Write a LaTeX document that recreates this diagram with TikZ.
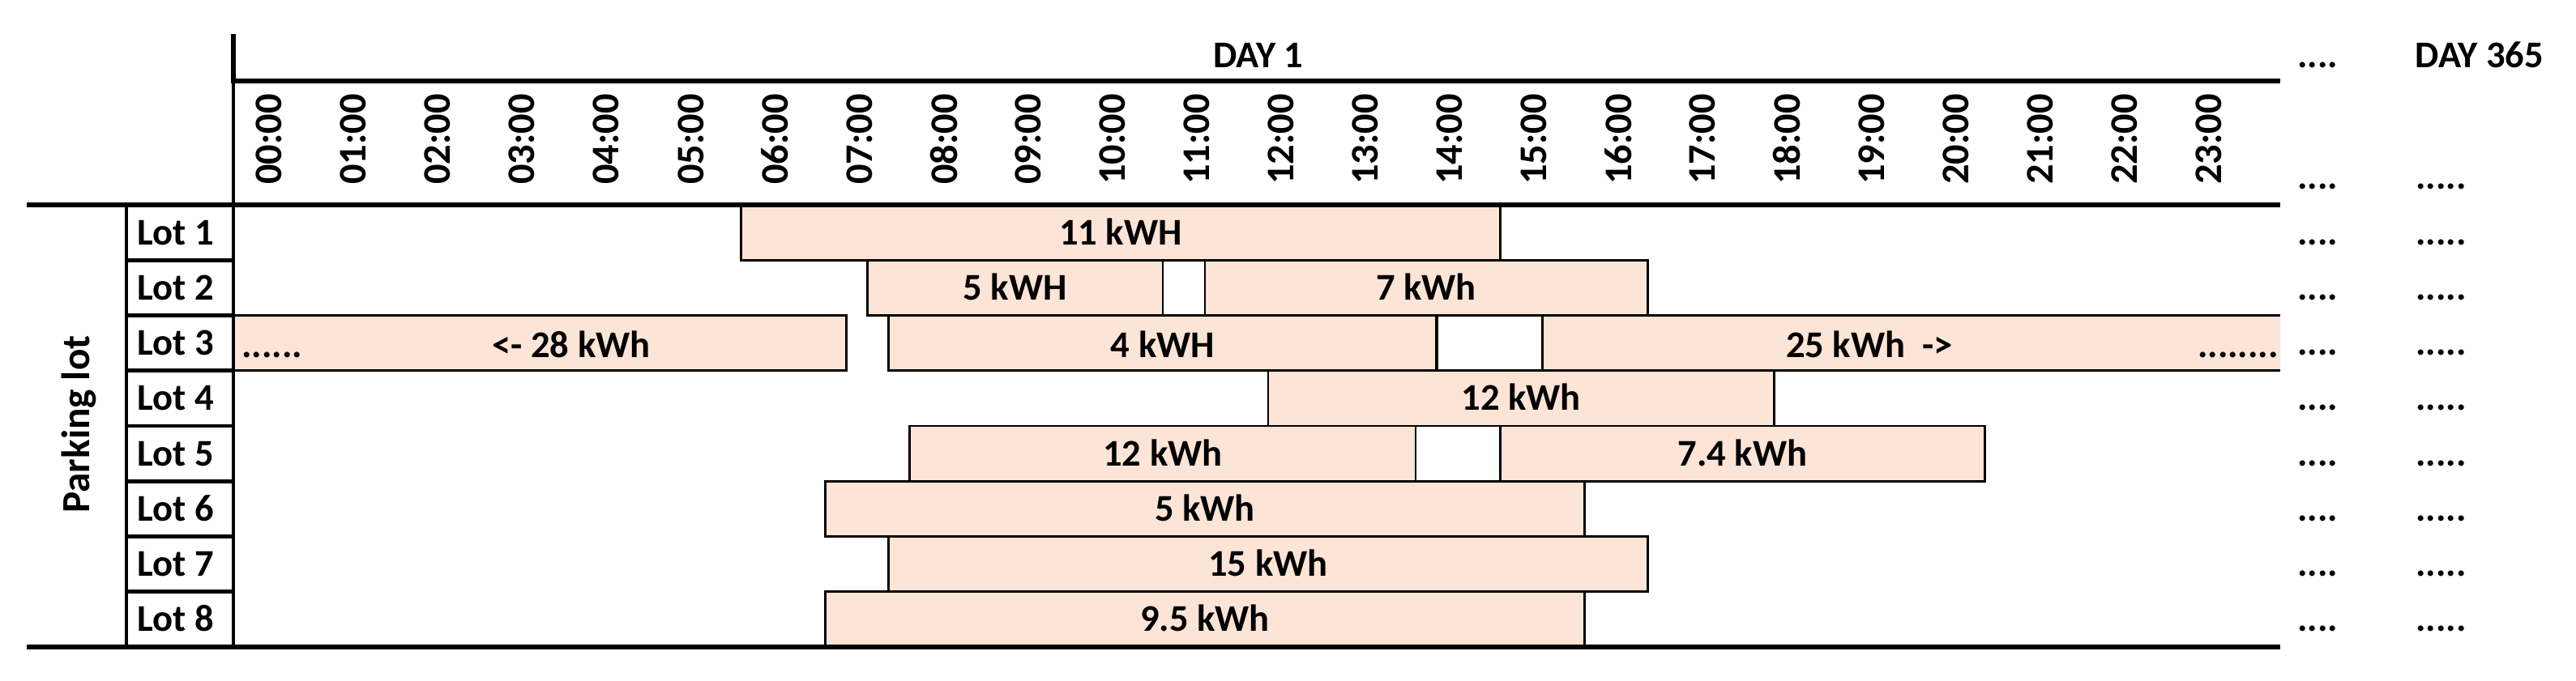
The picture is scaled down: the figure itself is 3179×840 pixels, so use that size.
\documentclass[tikz,border=0pt]{standalone}
\usepackage{fontspec}
\setmainfont{Carlito}
\definecolor{peach}{HTML}{FCE4D6}
\newcommand\lotbar[5]{% name,row,q1,q2,text
  \draw[barbox] ({290+26.02*#3},{253+68.25*(#2-1)}) rectangle ({290+26.02*#4},{253+68.25*#2});
  \node[txt,anchor=base] (#1) at ({290+26.02*(#3+#4)/2},{253+68.25*(#2-0.5)+15}) {#5};}
\begin{document}
\begin{tikzpicture}[x=0.02cm,y=-0.02cm,
  txt/.style={font=\fontsize{26.5}{30}\selectfont\bfseries, inner sep=0pt},
  timetxt/.style={font=\fontsize{27.5}{30}\selectfont\bfseries, inner sep=0pt},
  bigtxt/.style={font=\fontsize{28}{32}\selectfont\bfseries, inner sep=0pt},
  barbox/.style={draw=black, fill=peach, line width=1.5pt},
  barthick/.style={draw=black, line width=1.9pt},
  tablerule/.style={line width=3.4pt},
  lotrule/.style={line width=2.8pt}]
\useasboundingbox (0,0) rectangle (3179,840);

% header
\node[txt,anchor=base] (day1) at (1553,83) {DAY 1};
\node[txt,anchor=base west] (hdots) at (2835,83) {....};
\node[txt,anchor=base] (day365) at (3060,83) {DAY 365};
\node[txt,anchor=base west] (hdots2) at (2835,233) {....};
\node[txt,anchor=base west] (hdots3) at (2981,233) {.....};
\foreach \t [count=\i from 0] in {00,01,02,03,04,05,06,07,08,09,10,11,12,13,14,15,16,17,18,19,20,21,22,23}
  \node[timetxt,rotate=90] (h\i) at ({332+104.07*\i},172) {\t:00};

% bars
\lotbar{b1}{1}{24}{60}{11 kWH}
\lotbar{b2a}{2}{30}{44}{5 kWH}
\lotbar{b2b}{2}{46}{67}{7 kWh}
% lot 3
\fill[peach] (290,389.5) rectangle ({290+26.02*29},457.75);
\draw[barthick] (290,389.5) -- ({290+26.02*29},389.5) -- ({290+26.02*29},457.75) -- (290,457.75);
\node[txt,anchor=base west] (b3dots) at (298,441) {......};
\node[txt,anchor=base] (b3a) at (705,441) {<- 28 kWh};
\fill[peach] ({290+26.02*31},389.5) rectangle ({290+26.02*57},457.75);
\draw[barthick] ({290+26.02*31},389.5) rectangle ({290+26.02*57},457.75);
\node[txt,anchor=base] (b3b) at ({290+26.02*44},441) {4 kWH};
\fill[peach] ({290+26.02*62},389.5) rectangle (2814,457.75);
\draw[barthick] (2814,389.5) -- ({290+26.02*62},389.5) -- ({290+26.02*62},457.75) -- (2814,457.75);
\node[txt,anchor=base] (b3c) at (2307,441) {25 kWh\ \ ->};
\node[txt,anchor=base east] (b3dots2) at (2812,441) {........};
\lotbar{b4}{4}{49}{73}{12 kWh}
\lotbar{b5a}{5}{32}{56}{12 kWh}
\lotbar{b5b}{5}{60}{83}{7.4 kWh}
\lotbar{b6}{6}{28}{64}{5 kWh}
\lotbar{b7}{7}{31}{67}{15 kWh}
\lotbar{b8}{8}{28}{64}{9.5 kWh}

% table rules
\draw[tablerule] (288,42) -- (288,100) -- (2814,100);
\draw[tablerule] (33,253) -- (2814,253);
\draw[tablerule] (33,799) -- (2814,799);
\draw[lotrule] (156,253) -- (156,799);
\draw[lotrule] (288,100) -- (288,799);
\foreach \r in {2,...,8}
  \draw[lotrule] (156,{253+68.25*(\r-1)}) -- (288,{253+68.25*(\r-1)});

% lot labels and trailing dots
\foreach \r in {1,...,8} {
  \node[txt,anchor=base west] (lot\r) at (169,{253+68.25*(\r-0.5)+15}) {Lot \r};
  \node[txt,anchor=base west] (da\r) at (2835,{253+68.25*(\r-0.5)+15}) {....};
  \node[txt,anchor=base west] (db\r) at (2981,{253+68.25*(\r-0.5)+15}) {.....};
}
\node[bigtxt,rotate=90] (plot) at (97,524) {Parking lot};
\end{tikzpicture}
\end{document}
